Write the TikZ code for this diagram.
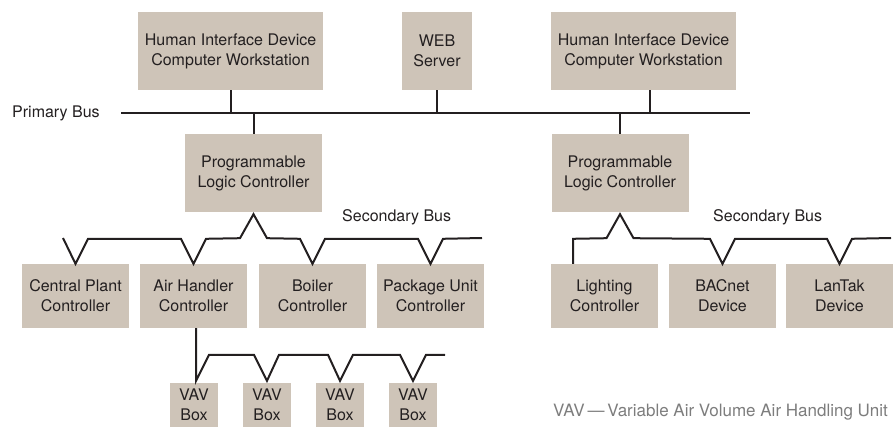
\documentclass[tikz,border=0pt]{standalone}
\usepackage{fontspec}
\setmainfont{TeX Gyre Heros}
\usepackage{tikz}
\usetikzlibrary{positioning,calc}
\definecolor{boxtan}{RGB}{206,196,184}
\definecolor{ink}{RGB}{35,31,32}
\definecolor{note}{RGB}{125,125,125}

\begin{document}
\begin{tikzpicture}
[x=1pt,y=-1pt,font=\fontsize{16}{20}\selectfont,text=ink]
\tikzset{
	unit/.style = {fill = boxtan, align = center, inner sep = 0, text = ink},
	wide/.style = {unit, minimum width = 185, minimum height = 78},
	plc/.style = {unit, minimum width = 137, minimum height = 78},
	ctrl/.style = {unit, minimum width = 107, minimum height = 64},
	vav/.style = {unit, minimum width = 48, minimum height = 44},
	bus/.style = {draw = ink, line width = 2pt, line join = miter},
	tag/.style = {anchor = west, inner sep = 0}
}
\useasboundingbox (0,0) rectangle (893,427);

\node(hid1) [wide] at (230.5,51) {Human Interface Device\\Computer Workstation};
\node(web) [unit, minimum width = 70, minimum height = 78] at (437,51) {WEB\\Server};
\node(hid2) [wide] at (643.5,51) {Human Interface Device\\Computer Workstation};

\node(plc1) [plc] at (253.5,173) {Programmable\\Logic Controller};
\node(plc2) [plc] at (620,173) {Programmable\\Logic Controller};

\node(cpc) [ctrl] at (75.5,296) {Central Plant\\Controller};
\node(ahc) [ctrl] at (193.5,296) {Air Handler\\Controller};
\node(boil) [ctrl] at (312.5,296) {Boiler\\Controller};
\node(puc) [ctrl] at (430.5,296) {Package Unit\\Controller};

\node(light) [ctrl] at (604.5,296) {Lighting\\Controller};
\node(bac) [ctrl] at (722.5,296) {BACnet\\Device};
\node(lan) [ctrl] at (839.5,296) {LanTak\\Device};

\node(vav1) [vav] at (194,405) {VAV\\Box};
\node(vav2) [vav] at (267,405) {VAV\\Box};
\node(vav3) [vav] at (340,405) {VAV\\Box};
\node(vav4) [vav] at (413,405) {VAV\\Box};

\node(pblabel) [tag] at (12,113) {Primary Bus};
\node(sb1) [tag] at (342,217) {Secondary Bus};
\node(sb2) [tag] at (713,217) {Secondary Bus};
\node(vavnote) [tag, text = note, font = \fontsize{17}{20}\selectfont] at (553,412) {VAV\,—\,Variable Air Volume Air Handling Unit};

\coordinate(pb-w) at (121,113);
\coordinate(pb-e) at (750,113);
\draw [bus] (pb-w) -- (pb-e);
\draw [bus] (hid1.south) -- (hid1.south |- pb-w);
\draw [bus] (web.south) -- (web.south |- pb-w);
\draw [bus] ([xshift=6.5pt]hid2.south) -- ([xshift=6.5pt]hid2.south |- pb-w);
\draw [bus] (plc1.north) -- (plc1.north |- pb-w);
\draw [bus] (plc2.north) -- (plc2.north |- pb-w);

\coordinate(sb1-w) at (63,238);
\coordinate(sb1-e) at (482,238);
\draw [bus] (sb1-w) -- (cpc.north)
	-- ($(cpc.north)+(12.5,-25)$) -- ($(ahc.north)+(-12.5,-25)$) -- (ahc.north)
	-- ($(ahc.north)+(12.5,-25)$) -- ($(plc1.south)+(-13.5,26)$) -- ([yshift=-2pt]plc1.south)
	-- ($(plc1.south)+(13.5,26)$) -- ($(boil.north)+(-12.5,-25)$) -- (boil.north)
	-- ($(boil.north)+(12.5,-25)$) -- ($(puc.north)+(-12.5,-25)$) -- (puc.north)
	-- ($(puc.north)+(12.5,-25)$) -- (sb1-e);

\coordinate(sb2-e) at (891,238);
\draw [bus] ([xshift=-31.5pt]light.north) -- ([xshift=-31.5pt,yshift=25pt]light.north)
	-- ($(plc2.south)+(-13.5,26)$) -- ([yshift=-2pt]plc2.south)
	-- ($(plc2.south)+(13.5,26)$) -- ($(bac.north)+(-12.5,-25)$) -- (bac.north)
	-- ($(bac.north)+(12.5,-25)$) -- ($(lan.north)+(-12.5,-25)$) -- (lan.north)
	-- ($(lan.north)+(12.5,-25)$) -- (sb2-e);

\coordinate(vb-e) at (445,355);
\draw [bus] ([xshift=2.5pt]ahc.south) -- ([xshift=2pt,yshift=2pt]vav1.north)
	-- ($(vav1.north)+(15,-28)$) -- ($(vav2.north)+(-13,-28)$) -- ([yshift=2pt]vav2.north)
	-- ($(vav2.north)+(12,-28)$) -- ($(vav3.north)+(-12,-28)$) -- ([yshift=2pt]vav3.north)
	-- ($(vav3.north)+(13,-28)$) -- ($(vav4.north)+(-13,-28)$) -- ([yshift=2pt]vav4.north)
	-- ($(vav4.north)+(13,-28)$) -- (vb-e);
\end{tikzpicture}
\end{document}
